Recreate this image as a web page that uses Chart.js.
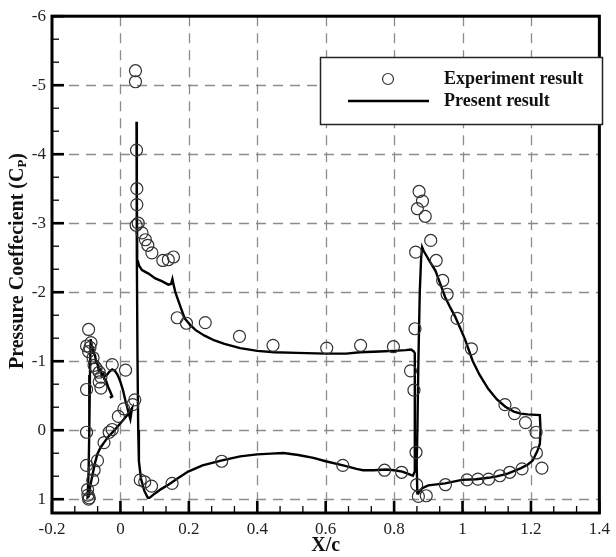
<!DOCTYPE html>
<html><head><meta charset="utf-8">
<script src="https://cdn.jsdelivr.net/npm/chart.js@4.4.1/dist/chart.umd.min.js"></script>
<style>html,body{margin:0;padding:0;background:#fff;}canvas{display:block;}</style>
</head><body>
<canvas id="c" width="616" height="557"></canvas>
<script>
// ---- axis ticks ----
const xTicks = [-0.2, 0, 0.2, 0.4, 0.6, 0.8, 1, 1.2, 1.4];
const xTickLabels = ['-0.2', '0', '0.2', '0.4', '0.6', '0.8', '1', '1.2', '1.4'];
const yTicks = [-6, -5, -4, -3, -2, -1, 0, 1];
const yTickLabels = ['-6', '-5', '-4', '-3', '-2', '-1', '0', '1'];
const xTitle = 'X/c';
const yTitleMain = 'Pressure Coeffecient (C';
const yTitleSub = 'P';
const yTitleEnd = ')';
const legendLabels = ['Experiment result', 'Present result'];

// ---- Experiment result (circles) ----
const expX = [
  -0.093, -0.099, -0.089, -0.086, -0.093, -0.080, -0.077, -0.071, -0.062, -0.057, -0.062, -0.057,
  -0.024, 0.015, -0.099, -0.099, -0.099, -0.096, -0.091, -0.095, -0.093, -0.081, -0.077, -0.067,
  -0.048, -0.033, -0.024, -0.006, 0.010, 0.036, 0.042,
  0.044, 0.044, 0.047, 0.048, 0.048, 0.046, 0.052, 0.063, 0.073, 0.080, 0.092, 0.124, 0.140, 0.155,
  0.166, 0.193, 0.248, 0.348, 0.446, 0.603, 0.702, 0.798, 0.848, 0.858,
  0.058, 0.071, 0.091, 0.151, 0.296, 0.650, 0.772, 0.822,
  0.864, 0.861, 0.863,
  0.873, 0.883, 0.868, 0.891, 0.907, 0.923, 0.942, 0.955, 0.984, 1.026, 1.124, 1.152, 1.184, 1.215,
  1.216, 1.232,
  0.866, 0.871, 0.894, 0.950, 1.013, 1.045, 1.076, 1.109, 1.138, 1.174
];
const expY = [
  -1.46, -1.22, -1.20, -1.27, -1.14, -1.05, -0.94, -0.90, -0.84, -0.77, -0.70, -0.61,
  -0.95, -0.87, -0.59, 0.03, 0.51, 0.86, 0.98, 0.94, 1.00, 0.72, 0.58, 0.44,
  0.18, 0.03, -0.01, -0.20, -0.31, -0.37, -0.44,
  -5.21, -5.05, -4.06, -3.50, -3.27, -2.97, -3.00, -2.86, -2.76, -2.68, -2.57, -2.46, -2.47, -2.51,
  -1.63, -1.55, -1.56, -1.36, -1.23, -1.19, -1.23, -1.21, -0.86, -0.58,
  0.72, 0.75, 0.81, 0.77, 0.45, 0.51, 0.58, 0.61,
  0.32, -1.47, -2.58,
  -3.46, -3.32, -3.21, -3.10, -2.75, -2.46, -2.17, -1.97, -1.62, -1.18, -0.37, -0.24, -0.11, 0.03,
  0.33, 0.55,
  0.79, 0.96, 0.95, 0.79, 0.72, 0.71, 0.71, 0.66, 0.61, 0.56
];

// ---- Present result (line), three elements ----
const slatX = [
  -0.031, -0.024, -0.030, -0.036, -0.043, -0.047, -0.050, -0.055, -0.058, -0.063, -0.067, -0.071,
  -0.074, -0.078, -0.080, -0.084, -0.087, -0.089, -0.091, -0.093, -0.096, -0.093, -0.087, -0.081,
  -0.074, -0.067, -0.058, -0.048, -0.035, -0.019, 0.000, 0.010, 0.025, 0.034, 0.029, 0.025, 0.020,
  0.015, 0.008, 0.000, -0.008, -0.016, -0.024, -0.032, -0.040, -0.048
];
const slatY = [
  -0.47, -0.49, -0.56, -0.63, -0.73, -0.74, -0.82, -0.80, -0.88, -0.86, -0.96, -0.98,
  -1.08, -1.12, -1.20, -1.22, -1.32, -0.80, 0.00, 0.60, 0.97, 0.96, 0.78, 0.63,
  0.47, 0.34, 0.25, 0.18, 0.09, 0.01, -0.10, -0.16, -0.25, -0.32, -0.16, -0.23, -0.33,
  -0.42, -0.57, -0.70, -0.80, -0.86, -0.88, -0.85, -0.80, -0.78
];
const mainX = [
  0.860, 0.850, 0.834, 0.800, 0.757, 0.700, 0.660, 0.600, 0.516, 0.450, 0.400, 0.350, 0.304, 0.275,
  0.246, 0.220, 0.203, 0.188, 0.179, 0.164, 0.160, 0.155, 0.152, 0.148, 0.140, 0.121, 0.102, 0.082,
  0.063, 0.055, 0.051, 0.049, 0.047, 0.048, 0.050, 0.052, 0.054, 0.060, 0.070, 0.080, 0.085, 0.100,
  0.120, 0.140, 0.170, 0.198, 0.240, 0.294, 0.350, 0.400, 0.440, 0.477, 0.520, 0.564, 0.600, 0.651,
  0.690, 0.709, 0.740, 0.776, 0.800, 0.824, 0.845, 0.855, 0.860, 0.861, 0.860
];
const mainY = [
  -1.13, -1.17, -1.16, -1.15, -1.14, -1.13, -1.11, -1.11, -1.12, -1.13, -1.15, -1.19, -1.25, -1.30,
  -1.37, -1.45, -1.53, -1.62, -1.74, -1.95, -2.01, -2.12, -2.19, -2.12, -2.11, -2.16, -2.20, -2.27,
  -2.32, -2.38, -2.45, -2.60, -4.47, -2.50, -1.00, 0.00, 0.45, 0.70, 0.88, 0.98, 0.98, 0.92,
  0.85, 0.79, 0.69, 0.60, 0.51, 0.44, 0.38, 0.35, 0.34, 0.33, 0.36, 0.40, 0.45, 0.51,
  0.56, 0.58, 0.58, 0.57, 0.58, 0.60, 0.64, 0.66, 0.60, -0.50, -1.13
];
const flapX = [
  0.868, 0.866, 0.868, 0.871, 0.875, 0.879, 0.882, 0.886, 0.892, 0.905, 0.921, 0.935, 0.949, 0.963,
  0.978, 0.993, 1.007, 1.030, 1.050, 1.075, 1.100, 1.125, 1.150, 1.170, 1.190, 1.226, 1.228, 1.226,
  1.219, 1.205, 1.190, 1.171, 1.132, 1.100, 1.075, 1.040, 0.998, 0.949, 0.900, 0.882, 0.870, 0.868
];
const flapY = [
  0.93, 0.50, 0.00, -1.00, -2.00, -2.50, -2.65, -2.60, -2.55, -2.44, -2.31, -2.12, -1.93, -1.79,
  -1.65, -1.48, -1.32, -1.00, -0.80, -0.60, -0.45, -0.34, -0.27, -0.24, -0.23, -0.22, 0.00, 0.20,
  0.30, 0.44, 0.50, 0.55, 0.63, 0.67, 0.69, 0.71, 0.72, 0.77, 0.80, 0.84, 0.92, 0.93
];

const zip = (xs, ys) => xs.map((x, i) => ({x: x, y: ys[i]}));
const SERIF = '"Liberation Serif", "Times New Roman", serif';

const lineStyle = {
  showLine: true, pointRadius: 0, borderColor: '#000', borderWidth: 2.4,
  backgroundColor: 'rgba(0,0,0,0)', tension: 0, fill: false
};

const customDraw = {
  id: 'customDraw',
  beforeDatasetsDraw(chart) {
    const {ctx, chartArea: a, scales: {x, y}} = chart;
    ctx.save();
    ctx.strokeStyle = '#8c8c8c';
    ctx.lineWidth = 1.3;
    ctx.setLineDash([10, 7]);
    xTicks.forEach(v => {
      if (v <= x.min || v >= x.max) return;
      const px = Math.round(x.getPixelForValue(v)) + 0.5;
      ctx.beginPath(); ctx.moveTo(px, a.top); ctx.lineTo(px, a.bottom); ctx.stroke();
    });
    yTicks.forEach(v => {
      if (v <= y.min || v >= y.max) return;
      const py = Math.round(y.getPixelForValue(v)) + 0.5;
      ctx.beginPath(); ctx.moveTo(a.left, py); ctx.lineTo(a.right, py); ctx.stroke();
    });
    ctx.restore();
  },
  afterDatasetsDraw(chart) {
    const {ctx, chartArea: a, scales: {x, y}} = chart;
    ctx.save();
    ctx.strokeStyle = '#000';
    // minor ticks
    ctx.lineWidth = 1.3;
    for (let i = 0; i < xTicks.length - 1; i++) {
      for (let k = 1; k < 3; k++) {
        const v = xTicks[i] + (xTicks[i + 1] - xTicks[i]) * k / 3;
        const px = x.getPixelForValue(v);
        ctx.beginPath(); ctx.moveTo(px, a.bottom); ctx.lineTo(px, a.bottom - 7); ctx.stroke();
      }
    }
    for (let i = 0; i < yTicks.length - 1; i++) {
      for (let k = 1; k < 3; k++) {
        const v = yTicks[i] + (yTicks[i + 1] - yTicks[i]) * k / 3;
        const py = y.getPixelForValue(v);
        ctx.beginPath(); ctx.moveTo(a.left, py); ctx.lineTo(a.left + 7, py); ctx.stroke();
      }
    }
    // major ticks
    ctx.lineWidth = 2.6;
    xTicks.forEach(v => {
      const px = x.getPixelForValue(v);
      ctx.beginPath(); ctx.moveTo(px, a.bottom); ctx.lineTo(px, a.bottom - 12); ctx.stroke();
    });
    yTicks.forEach(v => {
      const py = y.getPixelForValue(v);
      ctx.beginPath(); ctx.moveTo(a.left, py); ctx.lineTo(a.left + 12, py); ctx.stroke();
    });
    // frame
    ctx.lineWidth = 3;
    ctx.strokeRect(a.left, a.top, a.right - a.left, a.bottom - a.top);
    ctx.restore();
  },
  afterDraw(chart) {
    const {ctx, chartArea: a} = chart;
    ctx.save();
    // legend box
    const bx = 320, by = 57, bw = 282, bh = 67;
    ctx.fillStyle = '#fff';
    ctx.fillRect(bx, by, bw, bh);
    ctx.strokeStyle = '#222';
    ctx.lineWidth = 1.5;
    ctx.strokeRect(bx + 0.5, by + 0.5, bw, bh);
    // circle marker
    ctx.strokeStyle = '#333';
    ctx.lineWidth = 1.2;
    ctx.beginPath(); ctx.arc(388, 79, 5.5, 0, Math.PI * 2); ctx.stroke();
    // line sample
    ctx.strokeStyle = '#000';
    ctx.lineWidth = 2.6;
    ctx.beginPath(); ctx.moveTo(348, 101); ctx.lineTo(429, 101); ctx.stroke();
    ctx.fillStyle = '#111';
    ctx.font = 'bold 18px ' + SERIF;
    ctx.textBaseline = 'middle';
    ctx.textAlign = 'left';
    ctx.fillText(legendLabels[0], 444, 79);
    ctx.fillText(legendLabels[1], 444, 101);
    // x title
    ctx.font = 'bold 20px ' + SERIF;
    ctx.textAlign = 'center';
    ctx.fillText(xTitle, (a.left + a.right) / 2, 546);
    // y title with subscript
    ctx.translate(16, 261);
    ctx.rotate(-Math.PI / 2);
    const mainFont = 'bold 20px ' + SERIF, subFont = 'bold 13px ' + SERIF;
    ctx.font = mainFont; const w1 = ctx.measureText(yTitleMain).width;
    const w3 = ctx.measureText(yTitleEnd).width;
    ctx.font = subFont; const w2 = ctx.measureText(yTitleSub).width;
    let sx = -(w1 + w2 + w3) / 2;
    ctx.textAlign = 'left';
    ctx.textBaseline = 'alphabetic';
    ctx.font = mainFont; ctx.fillText(yTitleMain, sx, 7);
    ctx.font = subFont; ctx.fillText(yTitleSub, sx + w1, 10);
    ctx.font = mainFont; ctx.fillText(yTitleEnd, sx + w1 + w2, 7);
    ctx.restore();
  }
};

new Chart(document.getElementById('c'), {
  type: 'scatter',
  data: {
    datasets: [
      {label: legendLabels[0], data: zip(expX, expY), showLine: false, pointStyle: 'circle',
       pointRadius: 6, pointBorderWidth: 1.2, pointBorderColor: '#333',
       pointBackgroundColor: 'rgba(0,0,0,0)'},
      Object.assign({label: legendLabels[1], data: zip(mainX, mainY)}, lineStyle),
      Object.assign({label: 'slat', data: zip(slatX, slatY)}, lineStyle),
      Object.assign({label: 'flap', data: zip(flapX, flapY)}, lineStyle)
    ]
  },
  options: {
    responsive: false, devicePixelRatio: 1, animation: false, events: [],
    layout: {padding: {left: 0, right: 12, top: 8, bottom: 0}},
    plugins: {legend: {display: false}, tooltip: {enabled: false}},
    scales: {
      x: {
        type: 'linear', min: -0.2, max: 1.4,
        afterBuildTicks: s => { s.ticks = xTicks.map(v => ({value: v})); },
        afterFit: s => { s.height = 44; },
        grid: {display: false, drawTicks: false}, border: {display: false},
        ticks: {color: '#222', font: {family: SERIF, size: 17}, padding: 6,
                maxRotation: 0, autoSkip: false,
                callback: (v, i) => xTickLabels[i]}
      },
      y: {
        type: 'linear', min: -6, max: 1.2, reverse: true,
        afterBuildTicks: s => { s.ticks = yTicks.map(v => ({value: v})); },
        afterFit: s => { s.width = 52; },
        grid: {display: false, drawTicks: false}, border: {display: false},
        ticks: {color: '#222', font: {family: SERIF, size: 17}, padding: 6,
                autoSkip: false,
                callback: (v, i) => yTickLabels[i]}
      }
    }
  },
  plugins: [customDraw]
});
</script></body></html>
